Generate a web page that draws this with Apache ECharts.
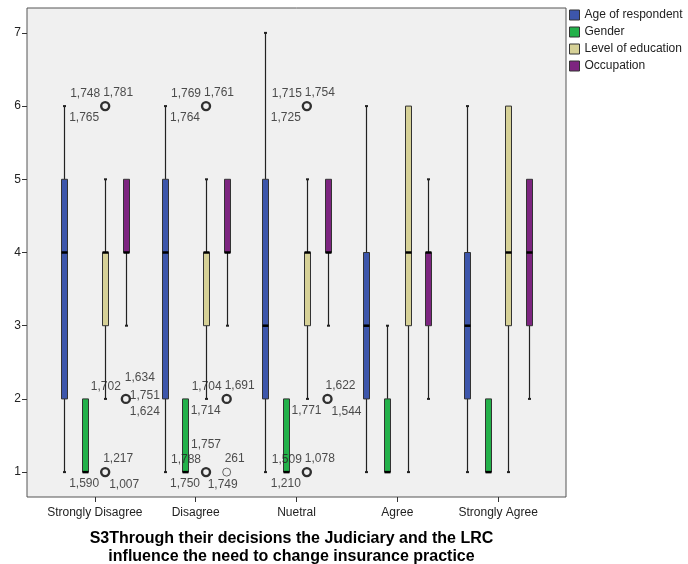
<!DOCTYPE html>
<html>
<head>
<meta charset="utf-8">
<script src="https://cdn.jsdelivr.net/npm/echarts@6/dist/echarts.min.js"></script>
<style>
    html, body { margin: 0; padding: 0; background: #fff; }
    #chart { width: 688px; height: 564px; }
</style>
</head>
<body>
<div id="chart"></div>
<script type="text/javascript">
    // categories on the x axis
    var categories = ['Strongly Disagree', 'Disagree', 'Nuetral', 'Agree', 'Strongly Agree'];
    var varNames = ['Age of respondent', 'Gender', 'Level of education', 'Occupation'];
    var varColors = ['#3D56AB', '#23B14A', '#D6D197', '#7D2580'];
    var yTicks = [1, 2, 3, 4, 5, 6, 7];

    // [min, Q1, median, Q3, max] per category
    var ageBox    = [[1, 2, 4, 5, 6], [1, 2, 4, 5, 6], [1, 2, 3, 5, 7], [1, 2, 3, 4, 6], [1, 2, 3, 4, 6]];
    var genderBox = [[1, 1, 1, 2, 2], [1, 1, 1, 2, 2], [1, 1, 1, 2, 2], [1, 1, 1, 2, 3], [1, 1, 1, 2, 2]];
    var eduBox    = [[2, 3, 4, 4, 5], [2, 3, 4, 4, 5], [2, 3, 4, 4, 5], [1, 3, 4, 6, 6], [1, 3, 4, 6, 6]];
    var occBox    = [[3, 4, 4, 5, 5], [3, 4, 4, 5, 5], [3, 4, 4, 5, 5], [2, 3, 4, 4, 5], [2, 3, 4, 5, 5]];
    var boxes = [ageBox, genderBox, eduBox, occBox];

    // outliers: [category, variable, value, heavy circle, case labels]
    var outliers = [
        [0, 2, 6, true,  [['1,748', 'tl'], ['1,781', 'tr'], ['1,765', 'bl']]],
        [0, 2, 1, true,  [['1,217', 'tr'], ['1,590', 'bl'], ['1,007', 'br']]],
        [0, 3, 2, true,  [['1,702', 'tl'], ['1,634', 'tt'], ['1,751', 'r'], ['1,624', 'br']]],
        [1, 2, 6, true,  [['1,769', 'tl'], ['1,761', 'tr'], ['1,764', 'bl']]],
        [1, 2, 1, true,  [['1,788', 'tl'], ['1,757', 'tt2'], ['1,750', 'bl']]],
        [1, 3, 2, true,  [['1,704', 'tl'], ['1,691', 'tr'], ['1,714', 'bl']]],
        [1, 3, 1, false, [['261', 'tr'], ['1,749', 'b']]],
        [2, 2, 6, true,  [['1,715', 'tl'], ['1,754', 'tr'], ['1,725', 'bl']]],
        [2, 2, 1, true,  [['1,509', 'tl'], ['1,078', 'tr'], ['1,210', 'bl']]],
        [2, 3, 2, true,  [['1,622', 'tr'], ['1,544', 'br'], ['1,771', 'bl']]]
    ];

    // label placement round a circle: [dx, dy, align]
    var slots = {
        tl: [-5, -12, 'right'], tr: [-2, -13, 'left'], bl: [-6, 12, 'right'], br: [4, 13, 'left'],
        r: [4, -3, 'left'], tt: [-1, -21, 'left'], tt2: [-15, -27, 'left'], b: [-4, 13, 'center']
    };

    var boxStep = 0.205; // spacing of the 4 boxes inside a category
    function xPos(cat, v) { return cat + (v - 1.5) * boxStep; }

    var FONT = "'Liberation Sans', Arial, sans-serif";

    function renderBox(params, api) {
        var x = api.value(0);
        var lo = api.coord([x, api.value(1)]);
        var q1 = api.coord([x, api.value(2)]);
        var md = api.coord([x, api.value(3)]);
        var q3 = api.coord([x, api.value(4)]);
        var hi = api.coord([x, api.value(5)]);
        var cx = Math.round(lo[0]) + 0.5, w = 6;
        var line = {stroke: '#222', lineWidth: 1.2};
        var kids = [];
        if (hi[1] < q3[1]) {
            kids.push({type: 'line', shape: {x1: cx, y1: q3[1], x2: cx, y2: hi[1]}, style: line});
            kids.push({type: 'line', shape: {x1: cx - 1.5, y1: hi[1], x2: cx + 1.5, y2: hi[1]}, style: {stroke: '#222', lineWidth: 2}});
        }
        if (lo[1] > q1[1]) {
            kids.push({type: 'line', shape: {x1: cx, y1: q1[1], x2: cx, y2: lo[1]}, style: line});
            kids.push({type: 'line', shape: {x1: cx - 1.5, y1: lo[1], x2: cx + 1.5, y2: lo[1]}, style: {stroke: '#222', lineWidth: 2}});
        }
        kids.push({type: 'rect', shape: {x: cx - w / 2, y: q3[1], width: w, height: q1[1] - q3[1]},
            style: {fill: api.visual('color'), stroke: '#333', lineWidth: 1}});
        kids.push({type: 'line', shape: {x1: cx - w / 2, y1: md[1], x2: cx + w / 2, y2: md[1]}, style: {stroke: '#000', lineWidth: 2.5}});
        return {type: 'group', children: kids};
    }

    var series = [];
    for (var v = 0; v < varNames.length; v++) {
        var d = [];
        for (var c = 0; c < categories.length; c++) {
            d.push([xPos(c, v)].concat(boxes[v][c]));
        }
        series.push({
            name: varNames[v], type: 'custom', renderItem: renderBox,
            itemStyle: {color: varColors[v]}, encode: {x: 0, y: [1, 2, 3, 4, 5]}, data: d, z: 3
        });
    }

    var heavyPts = [], lightPts = [], labelPts = [];
    outliers.forEach(function (o) {
        var p = [xPos(o[0], o[1]), o[2]];
        (o[3] ? heavyPts : lightPts).push(p);
        o[4].forEach(function (l) {
            var s = slots[l[1]];
            labelPts.push({value: p, label: {formatter: l[0], position: [s[0], s[1]], align: s[2], verticalAlign: 'middle'}});
        });
    });
    series.push({type: 'scatter', data: heavyPts, symbol: 'circle', symbolSize: 8, silent: true, z: 4,
        itemStyle: {color: 'rgba(0,0,0,0)', borderColor: '#000', borderWidth: 2.4}});
    series.push({type: 'scatter', data: lightPts, symbol: 'circle', symbolSize: 8, silent: true, z: 4,
        itemStyle: {color: 'rgba(0,0,0,0)', borderColor: '#444', borderWidth: 1}});
    series.push({type: 'scatter', data: labelPts, symbolSize: 0, silent: true, z: 5,
        label: {show: true, color: '#222', fontSize: 12, fontFamily: FONT}});

    var myChart = echarts.init(document.getElementById('chart'), null, {renderer: 'canvas'});
    var option = {
        animation: false,
        textStyle: {fontFamily: FONT},
        grid: {left: 27, right: 122, top: 8, bottom: 67, show: true, containLabel: false, outerBoundsMode: 'none',
            backgroundColor: '#F0F0F0', borderColor: '#555', borderWidth: 1},
        legend: {
            data: varNames, orient: 'vertical', left: 569, top: 9, padding: 0,
            itemWidth: 10, itemHeight: 10, itemGap: 5, icon: 'rect',
            itemStyle: {borderColor: '#333', borderWidth: 1},
            textStyle: {fontSize: 12, color: '#222', fontFamily: FONT}
        },
        xAxis: {
            type: 'value', min: -0.673, max: 4.673,
            name: 'S3Through their decisions the Judiciary and the LRC\ninfluence the need to change insurance practice',
            nameLocation: 'middle', nameGap: 33,
            nameTextStyle: {fontSize: 16, fontWeight: 'bold', color: '#000', lineHeight: 18, fontFamily: FONT,
                padding: [0, 10, 0, 0]},
            axisLine: {show: false, onZero: false}, splitLine: {show: false},
            axisTick: {show: true, length: 5, customValues: [0, 1, 2, 3, 4], lineStyle: {color: '#333'}},
            axisLabel: {customValues: [0, 1, 2, 3, 4], fontSize: 12, color: '#222', margin: 10,
                formatter: function (val) { return categories[Math.round(val)]; }}
        },
        yAxis: {
            type: 'value', min: 0.66, max: 7.34,
            axisLine: {show: false, onZero: false}, splitLine: {show: false},
            axisTick: {show: true, length: 5, customValues: yTicks, lineStyle: {color: '#333'}},
            axisLabel: {customValues: yTicks, fontSize: 12, color: '#222', margin: 6}
        },
        series: series
    };
    myChart.setOption(option, true);
</script>
</body>
</html>
